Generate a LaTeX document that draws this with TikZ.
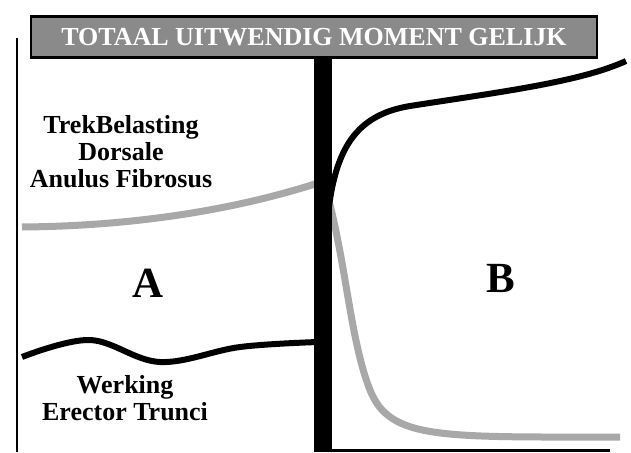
\documentclass[tikz,border=0pt]{standalone}
\usepackage{fontspec}
\setmainfont{Liberation Serif}
\usepackage{xcolor}
\usepackage{tikz}
\definecolor{title-grey}{RGB}{138, 138, 138}
\definecolor{curve-grey}{RGB}{168, 168, 168}

\begin{document}
\begin{tikzpicture}[x=1pt, y=-1pt,
        titlebox/.style={rectangle, draw=black, line width=2.5pt, fill=title-grey,
                    minimum width=566pt, minimum height=41pt, inner sep=0pt,
                    font=\fontsize{26}{26}\selectfont\bfseries, text=white},
        lbl/.style={align=center, inner sep=0pt,
                    font=\fontsize{26}{27}\selectfont\bfseries},
        zone/.style={inner sep=0pt, font=\fontsize{43}{43}\selectfont\bfseries},
        greycurve/.style={line width=7pt, color=curve-grey},
        blackcurve/.style={line width=6pt, color=black}
      ]
        \useasboundingbox (0,0) rectangle (631,452);
        % frame lines
        \draw[line width=2pt] (17,38) -- (17,452);
        \draw[line width=3pt] (332,450.5) -- (610,450.5);
        % curves
        \draw[greycurve] (22,227) .. controls (150,226) and (250,205) .. (318,183);
        \draw[greycurve] (326,190) .. controls (346,260) and (350,340) .. (370,390)
              .. controls (390,440) and (440,437) .. (620,437);
        \draw[blackcurve] plot[smooth, tension=0.6] coordinates
              {(22,357) (90,340) (160,362) (240,347) (318,342)};
        \draw[blackcurve] (328,215) .. controls (335,150) and (355,115) .. (410,106)
              .. controls (500,92) and (580,82) .. (626,61);
        % central bar
        \fill (314,55) rectangle (332,452);
        % title
        \node[titlebox] (title) at (314,37) {TOTAAL UITWENDIG MOMENT GELIJK\hspace{10pt}};
        % labels
        \node[lbl] (trek) at (121,152) {TrekBelasting\\Dorsale\\Anulus Fibrosus};
        \node[lbl] (erector) at (125,398) {Werking\\Erector Trunci};
        \node[zone] (zoneA) at (148,283) {A};
        \node[zone] (zoneB) at (501,278) {B};
      \end{tikzpicture}
\end{document}
